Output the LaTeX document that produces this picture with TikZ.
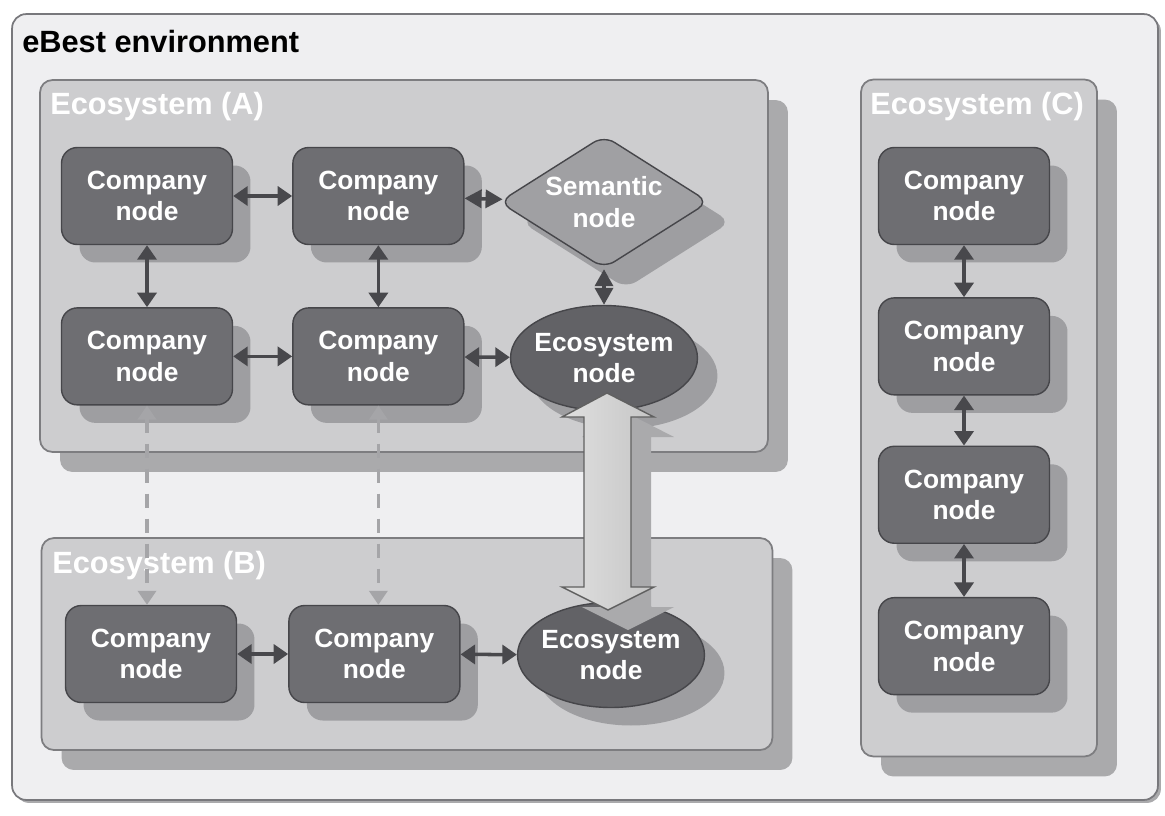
\documentclass[tikz,border=0pt]{standalone}
\usepackage{fontspec}
\setmainfont{Liberation Sans}
\usepackage{tikz}
\usetikzlibrary{positioning,arrows.meta,calc,shapes.geometric,shadows}

\definecolor{envfill}{RGB}{239,239,241}
\definecolor{envline}{RGB}{120,120,124}
\definecolor{sysfill}{RGB}{205,205,207}
\definecolor{sysline}{RGB}{125,125,128}
\definecolor{sysshade}{RGB}{170,170,172}
\definecolor{compfill}{RGB}{110,110,114}
\definecolor{compline}{RGB}{70,70,74}
\definecolor{compshade}{RGB}{158,158,161}
\definecolor{semfill}{RGB}{160,160,163}
\definecolor{ecofill}{RGB}{98,98,102}
\definecolor{linkgray}{RGB}{72,72,76}
\definecolor{dashgray}{RGB}{165,165,168}

\begin{document}
\begin{tikzpicture}[
    x=0.02cm, y=-0.02cm,
    font=\fontsize{15}{18}\selectfont\bfseries,
    env/.style={draw=envline, line width=1pt, fill=envfill, rounded corners=8pt,
                drop shadow={shadow xshift=.06cm, shadow yshift=-.06cm, fill=sysshade, opacity=1}},
    sys/.style={draw=sysline, line width=1pt, fill=sysfill, rounded corners=7pt,
                drop shadow={shadow xshift=.4cm, shadow yshift=-.4cm, fill=sysshade, opacity=1}},
    systitle/.style={anchor=west, inner sep=0pt, text=white, font=\fontsize{17.5}{20}\selectfont\bfseries},
    comp/.style={draw=compline, line width=.8pt, fill=compfill, rounded corners=9pt, text=white,
                 align=center, minimum width=3.42cm, minimum height=1.94cm, inner sep=2pt,
                 drop shadow={shadow xshift=.36cm, shadow yshift=-.36cm, fill=compshade, opacity=1}},
    sem/.style={diamond, aspect=1.56, draw=compline, line width=.8pt, fill=semfill, rounded corners=7pt,
                text=white, align=center, minimum width=4.2cm, minimum height=2.66cm, inner sep=0pt,
                drop shadow={shadow xshift=.44cm, shadow yshift=-.4cm, fill=compshade, opacity=1}},
    eco/.style={ellipse, draw=compline, line width=.8pt, fill=ecofill, text=white, align=center,
                minimum width=3.74cm, minimum height=2.1cm, inner ysep=0pt, inner xsep=-1mm,
                drop shadow={shadow xshift=.4cm, shadow yshift=-.36cm, fill=compshade, opacity=1}},
    link/.style={<->, >={Triangle[length=2.9mm, width=3.8mm]}, linkgray, line width=2pt},
    semlink/.style={<->, >={Triangle[length=3.4mm, width=3.6mm]}, linkgray, line width=2pt},
    peer/.style={<->, >={Triangle[length=2.8mm, width=3.6mm]}, dashgray, line width=2pt,
                 dash pattern=on .28cm off .22cm},
  ]
  \useasboundingbox (0,0) rectangle (1165,815);

  % environment and the three ecosystems
  \node[env, minimum width=22.92cm, minimum height=15.72cm] (world) at (585,407) {};
  \node[sys, minimum width=14.56cm, minimum height=7.44cm] (sysA) at (404,266) {};
  \node[sys, minimum width=14.62cm, minimum height=4.24cm] (sysB) at (407,644) {};
  \node[sys, minimum width=4.72cm, minimum height=13.54cm] (sysC) at (979,418) {};

  \node[anchor=west, inner sep=0pt, font=\fontsize{17.5}{20}\selectfont\bfseries] (ttl) at (22,42) {eBest environment};
  \node[systitle] (tA) at (50,107) {Ecosystem (A)};
  \node[systitle] (tB) at (52,566) {Ecosystem (B)};
  \node[systitle] (tC) at (870,107) {Ecosystem (C)};

  % Ecosystem (A)
  \node[comp] (ca1) at (147,196) {Company\\node};
  \node[comp, right=1.18cm of ca1] (ca2) {Company\\node};
  \node[comp, below=1.24cm of ca1] (ca3) {Company\\node};
  \node[comp, below=1.24cm of ca2] (ca4) {Company\\node};
  \node[sem] (sm) at (604,202) {Semantic\\node};
  \node[eco] (ecoA) at (604,358) {Ecosystem\\node};

  % Ecosystem (B)
  \node[comp] (cb1) at (151,654) {Company\\node};
  \node[comp, right=1.02cm of cb1] (cb2) {Company\\node};
  \node[eco] (ecoB) at (611,655) {Ecosystem\\node};

  % Ecosystem (C)
  \node[comp] (cc1) at (964,196) {Company\\node};
  \node[comp, below=1.04cm of cc1] (cc2) {Company\\node};
  \node[comp, below=1cm of cc2] (cc3) {Company\\node};
  \node[comp, below=1.06cm of cc3] (cc4) {Company\\node};

  \draw[link] (ca1) -- (ca2);
  \draw[link] (ca3) -- (ca4);
  \draw[link] (ca1) -- (ca3);
  \draw[link] (ca2) -- (ca4);
  \draw[semlink] (ca2) -- (sm);
  \draw[semlink] (sm) -- (ecoA);
  \draw[link] (ca4) -- (ecoA);

  \draw[link] (cb1) -- (cb2);
  \draw[link] (cb2) -- (ecoB);

  \draw[link] (cc1) -- (cc2);
  \draw[link] (cc2) -- (cc3);
  \draw[link] (cc3) -- (cc4);

  % links between ecosystems
  \draw[peer] (ca3.south) -- (ca3.south |- cb1.north);
  \draw[peer] (ca4.south) -- (ca4.south |- cb2.north);

  \fill[sysshade, shift={(20,20)}] (607,393) -- (654,417) -- (631,417) -- (631,587) -- (654,587)
    -- (608,610) -- (562,587) -- (584,587) -- (584,417) -- (562,417) -- cycle;
  \shade[left color=gray!25, middle color=white, right color=gray!45, draw=gray!75!black, line width=.8pt]
    (607,393) -- (654,417) -- (631,417) -- (631,587) -- (654,587)
    -- (608,610) -- (562,587) -- (584,587) -- (584,417) -- (562,417) -- cycle;
\end{tikzpicture}
\end{document}
